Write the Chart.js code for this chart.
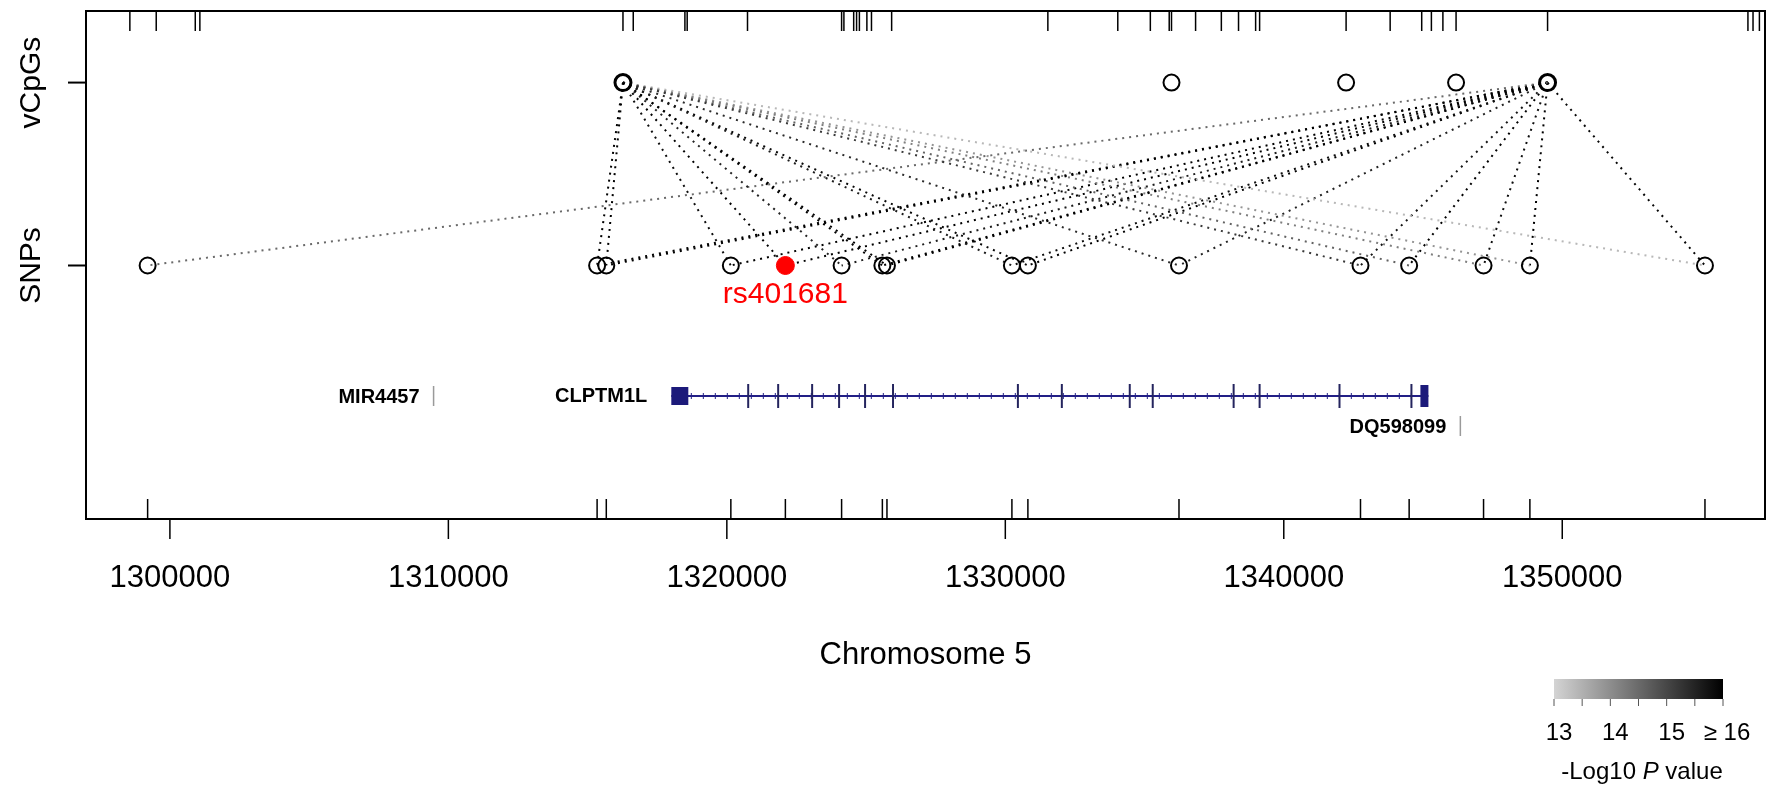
<!DOCTYPE html>
<html lang="en">
<head>
<meta charset="UTF-8">
<title>vCpG - SNP links on chromosome 5</title>
<script src="https://cdn.jsdelivr.net/npm/chart.js"></script>
<style>
    html, body { margin: 0; padding: 0; background: #fff; }
    #wrap { width: 1776px; height: 797px; }
</style>
</head>
<body>
<div id="wrap"><canvas id="chart" width="1776" height="797"></canvas></div>
<script>
// SNP positions (bp), the lead SNP is drawn red
const snpPos = [1299200, 1315341, 1315671, 1320144, 1322102, 1324121, 1325585, 1325750,
    1330237, 1330811, 1336237, 1342755, 1344502, 1347174, 1348838, 1355125];
const leadSnp = 1322102;
const leadName = 'rs401681';

// vCpG positions (bp)
const vcpgPos = [1316270, 1335968, 1342238, 1346187, 1349473];

// all CpG sites on the top rug
const cpgTicks = [1298562, 1299509, 1300911, 1301076, 1316270, 1316639, 1318494, 1318576,
    1320742, 1324121, 1324204, 1324555, 1324659, 1324760, 1325029, 1325194, 1325918,
    1331528, 1334039, 1335208, 1335886, 1335968, 1336833, 1337758, 1338375, 1338989,
    1339132, 1342238, 1343820, 1344953, 1345301, 1345714, 1346187, 1349473, 1356668,
    1356851, 1357080];

// vCpG - SNP associations and their -log10 P
const linkCpg = [
    1316270, 1316270, 1316270, 1316270, 1316270, 1316270, 1316270, 1316270,
    1316270, 1316270, 1316270, 1316270, 1316270, 1316270, 1316270,
    1349473, 1349473, 1349473, 1349473, 1349473, 1349473, 1349473, 1349473,
    1349473, 1349473, 1349473, 1349473, 1349473, 1349473, 1349473, 1349473];
const linkSnp = [
    1315341, 1315671, 1320144, 1322102, 1324121, 1325585, 1325750, 1330237,
    1330811, 1336237, 1342755, 1344502, 1347174, 1348838, 1355125,
    1299200, 1315341, 1315671, 1320144, 1322102, 1324121, 1325585, 1325750,
    1330237, 1330811, 1336237, 1342755, 1344502, 1347174, 1348838, 1355125];
const linkLogP = [
    16.5, 16.2, 15.8, 16.4, 15.5, 16.0, 16.0, 15.6,
    15.9, 15.4, 15.2, 14.6, 14.2, 13.9, 13.4,
    14.5, 16.3, 16.5, 16.0, 16.2, 15.6, 16.0, 16.3,
    15.8, 16.0, 15.5, 15.7, 16.0, 15.8, 16.2, 15.9];

// x axis
const xTicks = [1300000, 1310000, 1320000, 1330000, 1340000, 1350000];
const xTitle = 'Chromosome 5';
const yLabels = ['SNPs', 'vCpGs'];

// gene track
const genes = [
    { name: 'CLPTM1L', start: 1318006, end: 1345194 },
];
const geneExons = [1320767, 1321843, 1323063, 1324031, 1324964, 1325968, 1330452, 1332030,
    1334469, 1335294, 1338199, 1339132, 1342001, 1344584];
const smallGenes = [
    { name: 'MIR4457', pos: 1309469, row: 0 },
    { name: 'DQ598099', pos: 1346341, row: 1 },
];

// colour key
const keyMin = 13, keyMax = 16;
const keyLabels = ['13', '14', '15', '≥ 16'];

function pColor(p) {
    const t = Math.max(0, Math.min(1, (p - keyMin) / (keyMax - keyMin)));
    const g = Math.round(212 * (1 - t));
    return `rgb(${g},${g},${g})`;
}

const FONT = '"Liberation Sans", Arial, Helvetica, sans-serif';

const linkSets = linkCpg.map((c, i) => ({
    type: 'line',
    data: [{ x: c, y: 1 }, { x: linkSnp[i], y: 0 }],
    borderColor: pColor(linkLogP[i]),
    borderWidth: 2,
    borderDash: [2, 5],
    pointRadius: 0,
    fill: false,
    order: 5,
}));

const decor = {
    id: 'decor',
    beforeDatasetsDraw(chart) {
        const { ctx, scales: { x } } = chart;
        ctx.save();
        // gene track
        const gy = 396;
        genes.forEach(g => {
            const x0 = x.getPixelForValue(g.start), x1 = x.getPixelForValue(g.end);
            ctx.strokeStyle = '#221f86';
            ctx.fillStyle = '#1c1a7a';
            ctx.lineWidth = 2;
            ctx.beginPath(); ctx.moveTo(x0, gy); ctx.lineTo(x1, gy); ctx.stroke();
            // strand marks
            ctx.lineWidth = 1;
            for (let p = x0 + 20; p < x1 - 6; p += 12) {
                ctx.beginPath(); ctx.moveTo(p, gy - 3); ctx.lineTo(p, gy + 3); ctx.stroke();
            }
            ctx.fillRect(x0, gy - 9, 17, 18);
            ctx.fillRect(x1 - 8, gy - 11, 8, 22);
            ctx.fillStyle = '#000';
            ctx.font = `bold 20px ${FONT}`;
            ctx.textAlign = 'right';
            ctx.textBaseline = 'middle';
            ctx.fillText(g.name, x0 - 24, gy);
        });
        ctx.strokeStyle = '#24245e';
        ctx.lineWidth = 2;
        geneExons.forEach(e => {
            const px = x.getPixelForValue(e);
            ctx.beginPath(); ctx.moveTo(px, gy - 12); ctx.lineTo(px, gy + 12); ctx.stroke();
        });
        smallGenes.forEach(s => {
            const px = x.getPixelForValue(s.pos);
            const cy = s.row === 0 ? gy : gy + 30;
            ctx.strokeStyle = '#9a9a9a';
            ctx.lineWidth = 1.5;
            ctx.beginPath(); ctx.moveTo(px, cy - 10); ctx.lineTo(px, cy + 10); ctx.stroke();
            ctx.fillStyle = '#000';
            ctx.font = `bold 20px ${FONT}`;
            ctx.textAlign = 'right';
            ctx.textBaseline = 'middle';
            ctx.fillText(s.name, px - 14, cy + 1);
        });
        ctx.restore();
    },
    afterDraw(chart) {
        const { ctx, chartArea: a, scales: { x, y } } = chart;
        ctx.save();
        ctx.strokeStyle = '#000';
        ctx.fillStyle = '#000';
        // box
        ctx.lineWidth = 2;
        ctx.strokeRect(a.left, a.top, a.right - a.left, a.bottom - a.top);
        // rugs
        ctx.lineWidth = 1.5;
        cpgTicks.forEach(v => {
            const px = x.getPixelForValue(v);
            ctx.beginPath(); ctx.moveTo(px, a.top); ctx.lineTo(px, a.top + 20); ctx.stroke();
        });
        snpPos.forEach(v => {
            const px = x.getPixelForValue(v);
            ctx.beginPath(); ctx.moveTo(px, a.bottom); ctx.lineTo(px, a.bottom - 20); ctx.stroke();
        });
        // x axis
        ctx.font = `31px ${FONT}`;
        ctx.textAlign = 'center';
        ctx.textBaseline = 'middle';
        xTicks.forEach(v => {
            const px = x.getPixelForValue(v);
            ctx.beginPath(); ctx.moveTo(px, a.bottom); ctx.lineTo(px, a.bottom + 20); ctx.stroke();
            ctx.fillText(String(v), px, a.bottom + 59);
        });
        ctx.fillText(xTitle, (a.left + a.right) / 2, 655);
        // y axis
        ctx.lineWidth = 2;
        ctx.font = `30px ${FONT}`;
        yLabels.forEach((lab, i) => {
            const py = y.getPixelForValue(i);
            ctx.beginPath(); ctx.moveTo(a.left - 18, py); ctx.lineTo(a.left, py); ctx.stroke();
            ctx.save();
            ctx.translate(32, py);
            ctx.rotate(-Math.PI / 2);
            ctx.fillText(lab, 0, 0);
            ctx.restore();
        });
        // lead SNP label
        ctx.fillStyle = '#ff0000';
        ctx.font = `30px ${FONT}`;
        ctx.fillText(leadName, x.getPixelForValue(leadSnp), y.getPixelForValue(0) + 29);
        // colour key
        const kx = 1554, ky = 679, kw = 169, kh = 20;
        const grad = ctx.createLinearGradient(kx, 0, kx + kw, 0);
        grad.addColorStop(0, pColor(keyMin));
        grad.addColorStop(1, pColor(keyMax));
        ctx.fillStyle = grad;
        ctx.fillRect(kx, ky, kw, kh);
        ctx.strokeStyle = '#555';
        ctx.lineWidth = 1;
        for (let i = 0; i <= 6; i++) {
            const px = kx + i * kw / 6;
            ctx.beginPath(); ctx.moveTo(px, ky + kh); ctx.lineTo(px, ky + kh + 7); ctx.stroke();
        }
        ctx.fillStyle = '#000';
        ctx.font = `24px ${FONT}`;
        keyLabels.forEach((lab, i) => {
            let px = kx + i * kw / 3 + 5;
            if (i === keyLabels.length - 1) px = kx + kw + 4;
            ctx.fillText(lab, px, 733);
        });
        // key title with italic P
        const t1 = '-Log10 ', t2 = 'P', t3 = ' value';
        ctx.textAlign = 'left';
        ctx.font = `24px ${FONT}`;
        const w1 = ctx.measureText(t1).width, w3 = ctx.measureText(t3).width;
        ctx.font = `italic 24px ${FONT}`;
        const w2 = ctx.measureText(t2).width;
        const tx = 1642 - (w1 + w2 + w3) / 2;
        ctx.font = `24px ${FONT}`;
        ctx.fillText(t1, tx, 772);
        ctx.font = `italic 24px ${FONT}`;
        ctx.fillText(t2, tx + w1, 772);
        ctx.font = `24px ${FONT}`;
        ctx.fillText(t3, tx + w1 + w2, 772);
        ctx.restore();
    },
};

new Chart(document.getElementById('chart'), {
    type: 'scatter',
    data: {
        datasets: [
            {
                label: 'lead SNP',
                data: [{ x: leadSnp, y: 0 }],
                pointRadius: 9,
                pointBackgroundColor: '#ff0000',
                pointBorderColor: '#ff0000',
                pointBorderWidth: 1,
                order: 0,
            },
            {
                label: 'SNPs',
                data: snpPos.filter(p => p !== leadSnp).map(p => ({ x: p, y: 0 })),
                pointRadius: 8,
                pointBackgroundColor: 'rgba(0,0,0,0)',
                pointBorderColor: '#000',
                pointBorderWidth: 2,
                order: 1,
            },
            {
                label: 'vCpGs',
                data: vcpgPos.map(p => ({ x: p, y: 1 })),
                pointRadius: 8,
                pointBackgroundColor: 'rgba(0,0,0,0)',
                pointBorderColor: '#000',
                pointBorderWidth: [3, 2, 2, 2, 3],
                order: 1,
            },
            ...linkSets,
        ],
    },
    options: {
        responsive: false,
        animation: false,
        devicePixelRatio: 1,
        layout: { padding: { left: 86, right: 10, top: 8, bottom: 278 } },
        plugins: { legend: { display: false }, tooltip: { enabled: false } },
        scales: {
            x: { type: 'linear', min: 1296987, max: 1357281, display: false },
            y: { type: 'linear', min: -1.3859, max: 1.3913, display: false },
        },
    },
    plugins: [decor],
});
</script>
</body>
</html>
